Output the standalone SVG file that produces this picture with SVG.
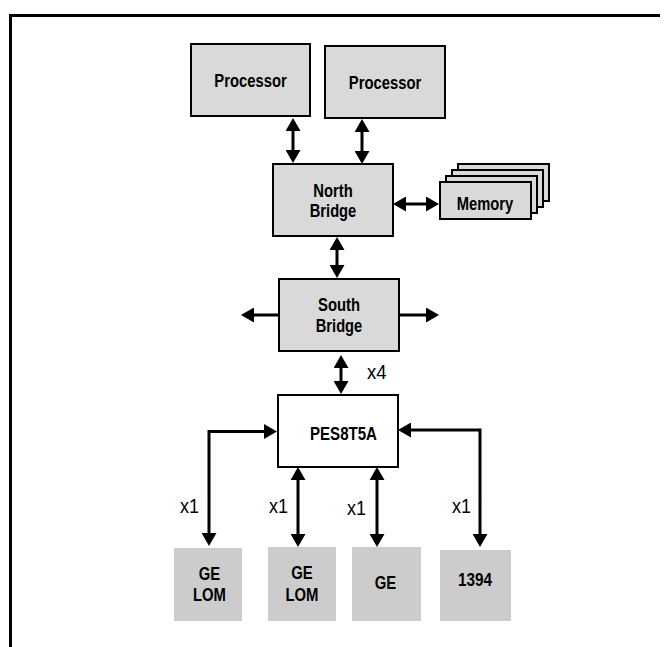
<svg xmlns="http://www.w3.org/2000/svg" width="670" height="647" viewBox="0 0 670 647">
<defs>
<style>
.box{fill:#d9d9d9;stroke:#000;stroke-width:2}
.wbox{fill:#fff;stroke:#000;stroke-width:2}
.dev{fill:#cccccc;stroke:none}
.lbl{font-family:"Liberation Sans Narrow","Liberation Sans",Arial,sans-serif;font-weight:bold;font-size:18px;fill:#000;text-anchor:middle}
.num{font-family:"Liberation Sans Narrow","Liberation Sans",Arial,sans-serif;font-size:20px;fill:#000}
.c{fill:none;stroke:#000;stroke-width:3}
.a2{marker-start:url(#ah);marker-end:url(#ah)}
.a1{marker-end:url(#ah)}
</style>
<marker id="ah" markerUnits="userSpaceOnUse" markerWidth="13" markerHeight="15" refX="6" refY="7.5" orient="auto-start-reverse" viewBox="0 0 13 15">
<path d="M0,0 L13,7.5 L0,15 Z" fill="#000"/>
</marker>
</defs>
<rect width="670" height="647" fill="#fff"/>
<g id="frame">
<path d="M10.5,647 V15.5 H660" fill="none" stroke="#000" stroke-width="3"/>
</g>
<g id="connectors">
<line class="c a2" x1="293" y1="125" x2="293" y2="156"/>
<line class="c a2" x1="362" y1="126" x2="362" y2="157"/>
<line class="c a2" x1="400" y1="204" x2="432" y2="204"/>
<line class="c a2" x1="337" y1="244" x2="337" y2="271"/>
<line class="c a1" x1="279" y1="315" x2="248" y2="315"/>
<line class="c a1" x1="399" y1="315" x2="432" y2="315"/>
<line class="c a2" x1="341" y1="362" x2="341" y2="387"/>
<polyline class="c a2" points="209,539 209,431.5 270,431.5"/>
<polyline class="c a2" points="480,540 480,430 405,430"/>
<line class="c a2" x1="298" y1="474" x2="298" y2="540"/>
<line class="c a2" x1="377" y1="474" x2="377" y2="540"/>
</g>
<g id="proc1"><rect class="box" x="191" y="44" width="119" height="72"/><text class="lbl" x="250.5" y="86.5" textLength="72.5" lengthAdjust="spacingAndGlyphs">Processor</text></g>
<g id="proc2"><rect class="box" x="325" y="46" width="120" height="72"/><text class="lbl" x="385" y="88.5" textLength="72.5" lengthAdjust="spacingAndGlyphs">Processor</text></g>
<g id="northbridge"><rect class="box" x="273" y="164" width="120" height="72"/><text class="lbl" x="333" y="197" textLength="39.5" lengthAdjust="spacingAndGlyphs">North</text><text class="lbl" x="333" y="217" textLength="46.5" lengthAdjust="spacingAndGlyphs">Bridge</text></g>
<g id="memory">
<rect class="box" x="458" y="164" width="91" height="37"/>
<rect class="box" x="452" y="170" width="91" height="37"/>
<rect class="box" x="446" y="176" width="91" height="37"/>
<rect class="box" x="440" y="182" width="91" height="37"/>
<text class="lbl" x="485" y="210" textLength="56.5" lengthAdjust="spacingAndGlyphs">Memory</text>
</g>
<g id="southbridge"><rect class="box" x="279" y="279" width="120" height="72"/><text class="lbl" x="339" y="311" textLength="42" lengthAdjust="spacingAndGlyphs">South</text><text class="lbl" x="339" y="332" textLength="46.5" lengthAdjust="spacingAndGlyphs">Bridge</text></g>
<g id="pes8t5a"><rect class="wbox" x="278" y="395" width="120" height="72"/><text class="lbl" x="343.5" y="440" textLength="67" lengthAdjust="spacingAndGlyphs">PES8T5A</text></g>
<g id="labels">
<text class="num" x="367" y="379" font-size="21" textLength="19.5" lengthAdjust="spacingAndGlyphs">x4</text>
<text class="num" x="180" y="513" textLength="19" lengthAdjust="spacingAndGlyphs">x1</text>
<text class="num" x="269" y="513" textLength="19" lengthAdjust="spacingAndGlyphs">x1</text>
<text class="num" x="347" y="514.5" textLength="19" lengthAdjust="spacingAndGlyphs">x1</text>
<text class="num" x="452" y="513" textLength="19" lengthAdjust="spacingAndGlyphs">x1</text>
</g>
<g id="gelom1"><rect class="dev" x="174" y="548" width="68" height="73"/><text class="lbl" x="209.5" y="580" textLength="21.5" lengthAdjust="spacingAndGlyphs">GE</text><text class="lbl" x="209.5" y="601" textLength="33" lengthAdjust="spacingAndGlyphs">LOM</text></g>
<g id="gelom2"><rect class="dev" x="268" y="547" width="68" height="74"/><text class="lbl" x="302" y="578.5" textLength="21.5" lengthAdjust="spacingAndGlyphs">GE</text><text class="lbl" x="302" y="601" textLength="33" lengthAdjust="spacingAndGlyphs">LOM</text></g>
<g id="ge"><rect class="dev" x="352" y="547" width="69" height="74"/><text class="lbl" x="385.5" y="588.5" textLength="21.5" lengthAdjust="spacingAndGlyphs">GE</text></g>
<g id="ieee1394"><rect class="dev" x="440" y="550" width="71" height="71"/><text class="lbl" x="475" y="586" textLength="34" lengthAdjust="spacingAndGlyphs">1394</text></g>
</svg>
